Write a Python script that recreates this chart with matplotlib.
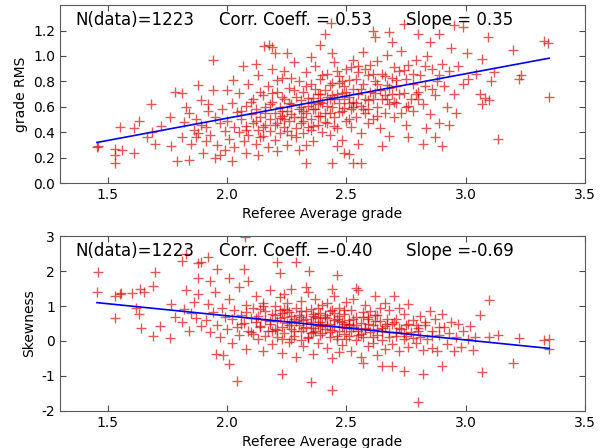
import numpy as np
import matplotlib.pyplot as plt

N_DATA = 1223

# top panel: referee average grade vs grade RMS
rms_x = [
    1.455, 1.458, 1.53, 1.53, 1.53, 1.55, 1.56, 1.61, 1.61, 1.63, 1.68, 1.665,
    1.685, 1.70, 1.725, 1.76, 1.765, 1.78, 1.79, 1.81, 1.81, 1.83, 1.84, 1.85,
    1.87, 1.88, 1.89, 1.90, 1.94, 1.94, 1.95, 1.97, 2.02, 2.00, 2.025, 2.065,
    2.08, 2.12, 2.13, 2.155, 2.175, 2.19, 2.21, 2.20, 2.25, 2.33, 2.39, 2.41,
    2.435, 2.44, 2.49, 2.51, 2.53, 2.56, 2.61, 2.62, 2.65, 2.68, 2.69, 2.74,
    2.76, 2.80, 2.82, 2.835, 2.85, 2.87, 2.89, 2.90, 2.93, 2.95, 2.99, 3.005,
    3.01, 3.045, 3.07, 3.06, 3.07, 3.08, 3.095, 3.10, 3.105, 3.12, 3.135, 3.20,
    3.225, 3.23, 3.33, 3.345, 3.35,
    1.82, 1.84, 1.86, 1.87, 1.89, 1.88, 1.91, 1.92,
    1.91, 1.92, 1.93, 1.95, 1.96, 1.97, 1.98, 1.99, 1.99,
    2.00, 2.01, 2.02, 2.03, 2.03, 2.04, 2.05, 2.05, 2.06, 2.07, 2.08, 2.08,
    2.09, 2.09, 2.10,
    2.11, 2.11, 2.12, 2.12, 2.13, 2.13, 2.14, 2.15, 2.15, 2.16, 2.16, 2.17,
    2.17, 2.18, 2.18, 2.19, 2.19, 2.20, 2.20,
    2.21, 2.21, 2.22, 2.22, 2.23, 2.23, 2.24, 2.24, 2.25, 2.25, 2.26, 2.26,
    2.27, 2.27, 2.28, 2.28, 2.29, 2.29, 2.30, 2.30, 2.30, 2.24,
    2.31, 2.31, 2.32, 2.32, 2.33, 2.33, 2.34, 2.34, 2.35, 2.35, 2.36, 2.36,
    2.37, 2.37, 2.38, 2.38, 2.39, 2.39, 2.40, 2.40, 2.35, 2.33, 2.38, 2.32,
    2.41, 2.41, 2.42, 2.42, 2.43, 2.43, 2.44, 2.44, 2.45, 2.45, 2.46, 2.46,
    2.47, 2.47, 2.48, 2.48, 2.49, 2.49, 2.50, 2.50, 2.44, 2.46, 2.42, 2.48,
    2.51, 2.51, 2.52, 2.52, 2.53, 2.53, 2.54, 2.54, 2.55, 2.55, 2.56, 2.56,
    2.57, 2.57, 2.58, 2.58, 2.59, 2.59, 2.60, 2.60, 2.55, 2.53,
    2.61, 2.61, 2.62, 2.63, 2.63, 2.64, 2.64, 2.65, 2.66, 2.66, 2.67, 2.67,
    2.68, 2.68, 2.69, 2.69, 2.70, 2.70,
    2.71, 2.71, 2.72, 2.73, 2.73, 2.74, 2.75, 2.75, 2.76, 2.77, 2.78, 2.78,
    2.79, 2.80,
    2.81, 2.82, 2.83, 2.84, 2.85, 2.86, 2.87, 2.88, 2.89, 2.90,
    2.91, 2.92, 2.93, 2.94, 2.95, 2.96, 2.97, 2.99,
    2.06, 2.08, 2.10, 2.12, 2.14, 2.14, 2.16, 2.18, 2.20, 2.21,
    2.22, 2.23, 2.25, 2.26, 2.27, 2.28, 2.29, 2.31, 2.32, 2.33,
    2.34, 2.35, 2.36, 2.37, 2.38, 2.39, 2.40, 2.41, 2.42, 2.43,
    2.44, 2.45, 2.46, 2.47, 2.48, 2.49, 2.50, 2.51, 2.52, 2.53,
    2.54, 2.56, 2.57, 2.58, 2.59, 2.61, 2.62, 2.63, 2.65, 2.66,
    2.68, 2.70, 2.72, 2.74, 2.76, 2.78, 2.80, 2.83, 2.86, 2.89,
    2.15, 2.19, 2.23, 2.27, 2.31, 2.35, 2.39, 2.43, 2.47, 2.51,
    2.55, 2.59, 2.63, 2.67, 2.71, 2.75, 2.79, 2.24, 2.36, 2.45,
]
rms_y = [
    0.28, 0.29, 0.22, 0.16, 0.27, 0.44, 0.26, 0.24, 0.43, 0.49, 0.62, 0.36,
    0.40, 0.31, 0.45, 0.52, 0.29, 0.72, 0.17, 0.71, 0.36, 0.60, 0.18, 0.31,
    0.36, 0.77, 0.65, 0.24, 0.73, 0.97, 0.20, 0.22, 0.17, 0.73, 0.81, 0.92,
    0.24, 0.94, 0.22, 1.08, 1.09, 1.07, 0.25, 1.02, 1.02, 0.16, 1.09, 1.17,
    1.26, 0.16, 0.24, 0.23, 0.16, 0.16, 1.20, 1.15, 0.29, 1.19, 1.11, 1.25,
    0.36, 1.17, 0.31, 0.43, 1.11, 0.36, 1.17, 0.29, 0.46, 1.24, 1.23, 1.02,
    0.82, 0.86, 0.98, 0.70, 0.62, 0.67, 1.15, 0.65, 0.80, 0.87, 0.35, 1.05,
    0.82, 0.85, 1.12, 1.10, 0.68,
    0.48, 0.55, 0.42, 0.50, 0.46, 0.39, 0.33, 0.57,
    0.44, 0.62, 0.38, 0.52, 0.30, 0.47, 0.58, 0.41, 0.26,
    0.49, 0.35, 0.63, 0.44, 0.28, 0.56, 0.71, 0.40, 0.50, 0.33, 0.61, 0.45,
    0.78, 0.38, 0.54,
    0.47, 0.66, 0.31, 0.58, 0.42, 0.85, 0.52, 0.37, 0.69, 0.46, 0.60, 0.28,
    0.76, 0.50, 0.41, 0.64, 0.90, 0.55, 0.34,
    0.47, 0.72, 0.60, 0.39, 0.53, 0.83, 0.44, 0.66, 0.30, 0.57, 0.49, 0.75,
    0.62, 0.38, 0.95, 0.52, 0.43, 0.68, 0.58, 0.80, 0.26, 0.88,
    0.47, 0.65, 0.72, 0.39, 0.55, 0.87, 0.61, 0.44, 0.50, 0.78, 0.67, 0.33,
    0.58, 0.92, 0.46, 0.70, 0.82, 0.53, 0.63, 0.40, 0.99, 0.30, 0.62, 0.57,
    0.73, 0.55, 0.86, 0.47, 0.66, 0.38, 0.60, 0.79, 0.52, 0.95, 0.70, 0.43,
    0.63, 0.84, 0.57, 0.34, 0.76, 0.66, 0.49, 0.90, 1.02, 0.29, 0.68, 0.71,
    0.68, 0.81, 0.58, 0.44, 0.74, 0.97, 0.63, 0.52, 0.87, 0.70, 0.39, 0.61,
    0.78, 1.03, 0.55, 0.66, 0.85, 0.47, 0.72, 0.93, 0.31, 0.64,
    0.66, 0.50, 0.80, 0.60, 0.96, 0.73, 0.43, 0.86, 0.55, 0.69, 1.01, 0.77,
    0.62, 0.37, 0.83, 0.70, 0.91, 0.52,
    0.76, 0.63, 0.88, 0.55, 1.04, 0.71, 0.82, 0.46, 0.93, 0.66, 0.78, 0.57,
    0.97, 0.72,
    0.85, 0.62, 0.76, 1.00, 0.54, 0.90, 0.69, 0.80, 0.47, 0.94,
    0.76, 0.60, 0.88, 1.06, 0.70, 0.55, 0.92, 0.78,
    0.57, 0.42, 0.64, 0.49, 0.36, 0.72, 0.55, 0.62, 0.46, 0.81,
    0.51, 0.68, 0.41, 0.63, 0.54, 0.73, 0.36, 0.60, 0.49, 0.76,
    0.67, 0.42, 0.58, 0.74, 0.53, 0.64, 0.85, 0.48, 0.61, 0.77,
    0.69, 0.45, 0.88, 0.56, 0.80, 0.59, 0.72, 0.50, 0.91, 0.60,
    0.82, 0.74, 0.58, 0.90, 0.65, 0.86, 0.71, 0.53, 0.66, 0.84,
    0.75, 0.64, 0.70, 0.89, 0.61, 0.86, 0.66, 0.92, 0.74, 0.85,
    0.44, 0.71, 0.57, 0.83, 0.52, 0.63, 0.70, 0.55, 0.79, 0.63,
    0.92, 0.58, 0.78, 0.66, 0.81, 0.60, 0.70, 0.50, 0.45, 0.66,
]

# bottom panel: referee average grade vs skewness
skew_x = [
    1.455, 1.46, 1.53, 1.53, 1.55, 1.555, 1.60, 1.62, 1.63, 1.635, 1.65, 1.64,
    1.69, 1.70, 1.69, 1.72, 1.76, 1.765, 1.78, 1.81, 1.83, 1.83, 1.88, 1.89,
    1.88, 1.92, 1.93, 1.96, 1.955, 1.985, 2.01, 2.01, 2.075, 2.04, 2.07, 2.09,
    2.21, 2.22, 2.23, 2.29, 2.345, 2.35, 2.44, 2.46, 2.65, 2.69, 2.74, 2.80,
    2.82, 2.90, 3.06, 3.07, 3.10, 3.10, 3.135, 3.20, 3.225, 3.33, 3.35, 3.35,
    1.81, 1.82, 1.84, 1.86, 1.87, 1.89, 1.85, 1.88,
    1.91, 1.92, 1.93, 1.94, 1.95, 1.96, 1.97, 1.98, 1.99,
    2.00, 2.01, 2.02, 2.02, 2.03, 2.04, 2.05, 2.05, 2.06, 2.07, 2.08, 2.08,
    2.09, 2.10,
    2.11, 2.11, 2.12, 2.12, 2.13, 2.13, 2.14, 2.15, 2.15, 2.16, 2.16, 2.17,
    2.18, 2.18, 2.19, 2.19, 2.20, 2.20,
    2.21, 2.21, 2.22, 2.22, 2.23, 2.23, 2.24, 2.24, 2.25, 2.25, 2.26, 2.26,
    2.27, 2.27, 2.28, 2.28, 2.29, 2.29, 2.30, 2.30, 2.24, 2.27,
    2.31, 2.31, 2.32, 2.32, 2.33, 2.33, 2.34, 2.34, 2.35, 2.35, 2.36, 2.36,
    2.37, 2.37, 2.38, 2.38, 2.39, 2.39, 2.40, 2.40, 2.33, 2.38, 2.36, 2.31,
    2.41, 2.41, 2.42, 2.42, 2.43, 2.43, 2.44, 2.44, 2.45, 2.45, 2.46, 2.46,
    2.47, 2.47, 2.48, 2.48, 2.49, 2.49, 2.50, 2.50, 2.44, 2.42, 2.47, 2.49,
    2.51, 2.51, 2.52, 2.52, 2.53, 2.53, 2.54, 2.54, 2.55, 2.55, 2.56, 2.56,
    2.57, 2.57, 2.58, 2.58, 2.59, 2.59, 2.60, 2.60, 2.54, 2.57,
    2.61, 2.61, 2.62, 2.62, 2.63, 2.63, 2.64, 2.64, 2.65, 2.65, 2.66, 2.66,
    2.67, 2.68, 2.68, 2.69, 2.69, 2.70,
    2.71, 2.71, 2.72, 2.72, 2.73, 2.74, 2.74, 2.75, 2.76, 2.76, 2.77, 2.78,
    2.79, 2.80,
    2.81, 2.81, 2.82, 2.83, 2.84, 2.85, 2.86, 2.86, 2.87, 2.88, 2.89, 2.90,
    2.91, 2.92, 2.93, 2.94, 2.95, 2.96, 2.97, 2.98, 2.99,
    3.01, 3.02, 3.03, 3.04,
    2.06, 2.08, 2.10, 2.12, 2.14, 2.14, 2.16, 2.18, 2.20, 2.21,
    2.22, 2.23, 2.25, 2.26, 2.27, 2.28, 2.29, 2.31, 2.32, 2.33,
    2.34, 2.35, 2.36, 2.37, 2.38, 2.39, 2.40, 2.41, 2.42, 2.43,
    2.44, 2.45, 2.46, 2.47, 2.48, 2.49, 2.50, 2.51, 2.52, 2.53,
    2.54, 2.56, 2.57, 2.58, 2.59, 2.61, 2.62, 2.63, 2.65, 2.66,
    2.68, 2.70, 2.72, 2.74, 2.76, 2.78, 2.80, 2.83, 2.86, 2.89,
    2.15, 2.19, 2.23, 2.27, 2.31, 2.35, 2.39, 2.43, 2.47, 2.51,
    2.55, 2.59, 2.63, 2.67, 2.71, 2.75, 2.79, 2.24, 2.36, 2.45,
]
skew_y = [
    1.39, 1.98, 0.67, 1.28, 1.34, 1.37, 1.37, 0.94, 0.78, 1.48, 1.41, 0.36,
    1.58, 1.98, 0.13, 0.43, 0.08, 1.06, 0.68, 2.28, 2.49, 1.45, 2.23, 2.25,
    1.81, 2.39, 1.72, 2.07, -0.37, -0.39, 1.81, -0.67, 2.98, -1.14, 2.05, 1.72,
    2.26, 1.93, -0.95, 2.26, 2.00, -1.16, -1.41, 1.90, -0.72, -0.72, -0.86, -1.75,
    -0.95, -0.72, 0.73, -0.90, 1.16, 0.12, 0.17, -0.62, 0.09, 0.03, 0.07, -0.22,
    0.55, 0.92, 0.30, 1.12, 0.65, 0.42, 0.80, 1.35,
    0.60, 1.05, 0.25, 0.82, 1.40, 0.45, 0.10, 0.95, 0.70,
    0.35, 1.20, 0.62, -0.05, 0.88, 0.40, 1.55, 0.18, 0.75, 0.52, 1.02, -0.22,
    0.30, 0.66,
    0.95, 0.20, 0.55, 1.30, 0.05, 0.72, 0.42, 1.10, -0.30, 0.60, 0.85, 0.28,
    1.45, 0.48, -0.10, 0.78, 0.35, 1.00,
    0.58, 0.12, 0.90, 1.25, 0.40, -0.35, 0.70, 0.22, 1.08, 0.52, -0.02, 0.82,
    0.35, 1.50, 0.62, 0.15, 0.95, -0.45, 0.45, 0.75, 1.35, 0.05,
    0.30, 1.15, 0.60, -0.15, 0.85, 0.40, 1.40, 0.08, 0.55, 0.92, -0.38, 0.25,
    0.70, 1.20, 0.45, -0.05, 0.80, 0.18, 1.02, 0.50, 1.55, 0.65, 0.38, 0.02,
    0.35, 0.75, -0.20, 1.10, 0.50, 0.12, 0.88, -0.50, 0.42, 1.30, 0.62, 0.05,
    0.28, 0.95, -0.12, 0.55, 0.78, 0.20, 1.12, 0.38, 1.50, 0.65, -0.32, 0.48,
    0.15, 0.60, 0.90, -0.28, 0.40, 1.20, 0.02, 0.70, 0.30, 1.45, -0.45, 0.52,
    0.82, 0.10, 0.38, 1.02, -0.15, 0.62, 0.25, 0.85, 1.52, -0.62,
    0.45, -0.05, 0.75, 1.30, 0.18, -0.40, 0.58, 0.95, 0.02, 0.38, 1.10, -0.22,
    0.62, 0.25, 0.88, -0.10, 0.48, 1.28,
    0.15, 0.62, 0.95, -0.30, 0.35, 0.05, 0.78, 0.45, -0.18, 1.05, 0.25, 0.60,
    -0.05, 0.38,
    0.12, 0.72, -0.25, 0.45, 0.05, 0.85, -0.20, 0.30, 0.62, -0.28, 0.18, 0.78,
    0.40, -0.10, 0.22, 0.55, -0.30, 0.10, 0.48, -0.18, 0.30,
    0.05, 0.42, -0.25, 0.12,
    0.48, 0.82, 0.25, 0.66, 0.92, 0.40, 0.15, 0.58, 0.75, 0.32,
    0.65, 0.05, 0.88, 0.45, 0.72, 0.28, 0.58, 0.85, 0.38, 0.62,
    0.12, 0.48, 0.78, 0.30, 0.95, 0.55, 0.22, 0.68, 0.42, 0.85,
    0.32, 0.60, 0.15, 0.72, 0.40, 0.88, 0.05, 0.50, 0.30, 0.62,
    0.45, 0.20, 0.68, 0.35, 0.50, 0.12, 0.58, 0.75, 0.28, 0.42,
    0.10, 0.55, 0.38, 0.22, 0.50, 0.08, 0.30, 0.55, 0.15, 0.40,
    1.00, 0.30, 0.80, 0.55, 0.68, 0.22, 0.42, 0.25, 0.58, 0.45,
    0.18, 0.70, 0.35, 0.48, 0.25, 0.15, 0.45, 0.92, 0.72, 0.80,
]

# fit results printed on the original plot
rms_corr, rms_slope, rms_intercept = 0.53, 0.35, -0.19
skew_corr, skew_slope, skew_intercept = -0.40, -0.69, 2.10

panels = [
    (rms_x, rms_y, rms_corr, rms_slope, rms_intercept, 'grade RMS',
     (0.0, 1.4), np.arange(0.0, 1.21, 0.2), '%.1f'),
    (skew_x, skew_y, skew_corr, skew_slope, skew_intercept, 'Skewness',
     (-2, 3), np.arange(-2, 4, 1), '%d'),
]
axes_rects = [
    [0.0985, 0.5915, 0.862, 0.397],
    [0.0985, 0.0826, 0.862, 0.3906],
]

fig = plt.figure(figsize=(6.09, 4.48), dpi=100)

for rect, (xs, ys, corr, slope, icpt, ylab, ylim, yticks, yfmt) in zip(
        axes_rects, panels):
    ax = fig.add_axes(rect)
    ax.plot(xs, ys, '+', color='#d40000', alpha=0.65, markersize=7,
            markeredgewidth=1.0)
    fit_x = np.array([min(xs), max(xs)])
    ax.plot(fit_x, slope * fit_x + icpt, '-', color='#0000ee', lw=1.2)
    ax.set_xlim(1.3, 3.5)
    ax.set_ylim(*ylim)
    ax.set_xticks([1.5, 2.0, 2.5, 3.0, 3.5])
    ax.set_yticks(yticks)
    ax.set_yticklabels([yfmt % v for v in yticks])
    ax.tick_params(direction='in', top=True, right=True, length=4,
                   labelsize=10, color='0.3')
    for sp in ax.spines.values():
        sp.set_color('0.35')
    ax.set_xlabel('Referee Average grade', fontsize=10)
    ax.set_ylabel(ylab, fontsize=10)
    ax.text(0.029, 0.915, 'N(data)=%d' % N_DATA, transform=ax.transAxes,
            fontsize=12, va='center')
    ax.text(0.303, 0.915, 'Corr. Coeff. =%5.2f' % corr,
            transform=ax.transAxes, fontsize=12, va='center')
    ax.text(0.659, 0.915, 'Slope =%5.2f' % slope, transform=ax.transAxes,
            fontsize=12, va='center')

fig.savefig('out.png', dpi=100)
